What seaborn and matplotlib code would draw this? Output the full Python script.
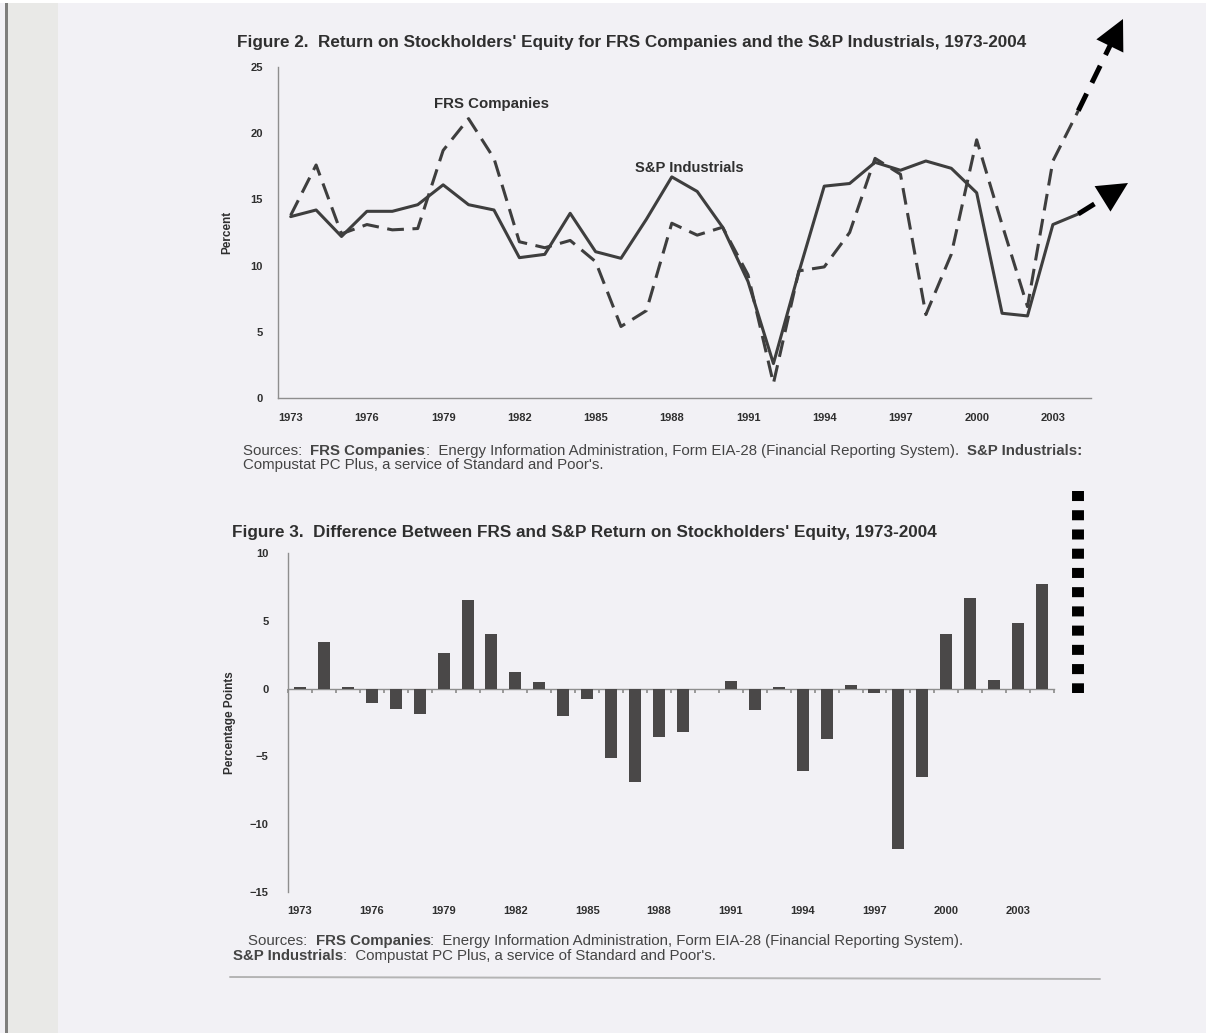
import matplotlib
matplotlib.use("Agg")
import matplotlib.pyplot as plt
import numpy as np
import seaborn as sns
from matplotlib.lines import Line2D
from matplotlib.patches import Rectangle, FancyArrowPatch
from matplotlib.offsetbox import TextArea, HPacker, AnchoredOffsetbox

# ---- data -------------------------------------------------------------
years = list(range(1973, 2005))

# Return on stockholders' equity, percent
frs_roe = [13.8, 17.6, 12.4, 13.1, 12.7, 12.8, 18.7, 21.1, 18.1, 11.8, 11.35,
           11.9, 10.3, 5.4, 6.6, 13.2, 12.3, 12.9, 9.3, 1.1, 9.6, 9.9, 12.5,
           18.1, 16.9, 6.3, 10.85, 19.5, 13.1, 6.9, 17.9, 21.7]
sp_roe = [13.7, 14.2, 12.2, 14.1, 14.1, 14.6, 16.1, 14.6, 14.2, 10.6, 10.85,
          13.95, 11.05, 10.55, 13.5, 16.7, 15.6, 12.9, 8.8, 2.6, 9.5, 16.0,
          16.2, 17.8, 17.2, 17.9, 17.35, 15.5, 6.4, 6.2, 13.1, 13.9]

# FRS minus S&P, percentage points
roe_gap = [0.1, 3.4, 0.15, -1.05, -1.5, -1.85, 2.6, 6.5, 4.0, 1.2, 0.5, -2.0,
           -0.75, -5.1, -6.9, -3.6, -3.2, 0.0, 0.55, -1.55, 0.1, -6.1, -3.7,
           0.3, -0.35, -11.8, -6.5, 4.05, 6.7, 0.65, 4.85, 7.75]

year_ticks = list(range(1973, 2004, 3))
roe_ticks = [0, 5, 10, 15, 20, 25]
gap_ticks = [-15, -10, -5, 0, 5, 10]

# ---- styling ------------------------------------------------------------
W, H, DPI = 1206, 1033, 100
PAPER = "#f2f1f5"
INK = "#2f2f2f"
NOTE = "#444444"
LINE = "#3e3e3e"
BAR = "#4a4848"
AXIS = "#8e8e8e"

sns.set_theme(style="white")
plt.rcParams["font.family"] = ["Liberation Sans", "DejaVu Sans"]


def fx(px):
    return px / W


def fy(py):
    return 1 - py / H


fig = plt.figure(figsize=(W / DPI, H / DPI), dpi=DPI, facecolor=PAPER)

# scanned page edge on the left
fig.add_artist(Rectangle((fx(7), 0), fx(51), fy(3), transform=fig.transFigure,
                         color="#e9e9e7", lw=0, zorder=0))
fig.add_artist(Rectangle((fx(5), 0), fx(2.5), fy(3), transform=fig.transFigure,
                         color="#7e7e7c", lw=0, zorder=0))
fig.add_artist(Rectangle((0, fy(3)), 1, fy(0) - fy(3), transform=fig.transFigure,
                         color="white", lw=0, zorder=0))


def style_axes(ax):
    ax.set_facecolor("none")
    for side in ("top", "right"):
        ax.spines[side].set_visible(False)
    for side in ("left", "bottom"):
        ax.spines[side].set_color(AXIS)
        ax.spines[side].set_linewidth(1.0)
    ax.tick_params(axis="both", which="both", colors=AXIS, labelcolor=INK,
                   labelsize=8, width=0.8)
    for lab in ax.get_xticklabels() + ax.get_yticklabels():
        lab.set_fontweight("bold")


def source_line(x_px, y_px, parts, size=10.8):
    areas = [TextArea(t, textprops=dict(fontsize=size, color=NOTE,
                                        fontweight="bold" if b else "normal"))
             for t, b in parts]
    box = HPacker(children=areas, align="baseline", pad=0, sep=0)
    anchored = AnchoredOffsetbox(loc="center left", child=box, pad=0,
                                 borderpad=0, frameon=False,
                                 bbox_to_anchor=(fx(x_px), fy(y_px)),
                                 bbox_transform=fig.transFigure)
    fig.add_artist(anchored)


def trend_arrow(ax, start, tip_px, head=30):
    """Thick dashed arrow from a data point out to a point on the page."""
    sx, sy = ax.transData.transform(start)
    tx, ty = tip_px[0], H - tip_px[1]
    dist = np.hypot(tx - sx, ty - sy)
    ux, uy = (tx - sx) / dist, (ty - sy) / dist
    bx, by = tx - ux * head * 0.7, ty - uy * head * 0.7
    fig.add_artist(Line2D([sx / W, bx / W], [sy / H, by / H],
                          transform=fig.transFigure, color="black", lw=3.6,
                          linestyle=(0, (3.8, 2.4)), dash_capstyle="butt",
                          zorder=5))
    hx, hy = tx - ux * head, ty - uy * head
    fig.add_artist(FancyArrowPatch(
        (hx / W, hy / H), (tx / W, ty / H), transform=fig.transFigure,
        arrowstyle="-|>,head_length=1.0,head_width=0.5",
        mutation_scale=head * 0.72, color="black", lw=0,
        shrinkA=0, shrinkB=0, zorder=6))


# ---- Figure 2: line chart ------------------------------------------------
ax1 = fig.add_axes([fx(278), fy(398), fx(1091) - fx(278), fy(67) - fy(398)])
sns.lineplot(x=years, y=sp_roe, ax=ax1, color=LINE, lw=2.2)
sns.lineplot(x=years, y=frs_roe, ax=ax1, color=LINE, lw=2.2,
             linestyle=(0, (5.5, 2.8)))
ax1.set_xlim(1972.5, 2004.5)
ax1.set_ylim(0, 25)
ax1.set_yticks(roe_ticks)
ax1.set_xticks(year_ticks)
ax1.set_xticks(years, minor=True)
ax1.set_xticklabels([str(y) for y in year_ticks])
ax1.tick_params(axis="x", which="both", direction="inout", length=4, pad=9)
ax1.tick_params(axis="y", direction="out", length=3, pad=8)
ax1.set_ylabel("Percent", fontsize=8.5, fontweight="bold", color=INK,
               labelpad=12)
style_axes(ax1)

ax1.text(1980.9, 22.2, "FRS Companies", ha="center", va="center",
         fontsize=10.8, fontweight="bold", color=INK)
ax1.text(1988.7, 17.4, "S&P Industrials", ha="center", va="center",
         fontsize=10.6, fontweight="bold", color=INK)

# trend arrows carried past the last year
trend_arrow(ax1, (2004, frs_roe[-1]), (1123, 19))
trend_arrow(ax1, (2004, sp_roe[-1]), (1128, 183))

fig.text(fx(237), fy(42),
         "Figure 2.  Return on Stockholders' Equity for FRS Companies and the "
         "S&P Industrials, 1973-2004",
         ha="left", va="center", fontsize=12.3, fontweight="bold", color=INK)

source_line(243, 451, [("Sources:  ", False), ("FRS Companies", True),
                       (":  Energy Information Administration, Form EIA-28 "
                        "(Financial Reporting System).  ", False),
                       ("S&P Industrials:", True)])
source_line(243, 465, [("Compustat PC Plus, a service of Standard and Poor's.",
                        False)])

# ---- Figure 3: bar chart -------------------------------------------------
ax2 = fig.add_axes([fx(288), fy(892), fx(1054) - fx(288), fy(553) - fy(892)])
sns.barplot(x=years, y=roe_gap, ax=ax2, color=BAR, width=0.5, saturation=1,
            edgecolor=BAR, linewidth=0)
ax2.set_xlim(-0.5, len(years) - 0.5)
ax2.set_ylim(-15, 10)
ax2.set_yticks(gap_ticks)
ax2.set_xticks([years.index(y) for y in year_ticks])
ax2.set_xticklabels([str(y) for y in year_ticks])
ax2.set_xlabel("")
ax2.set_ylabel("Percentage Points", fontsize=8.5, fontweight="bold", color=INK,
               labelpad=10)
style_axes(ax2)
ax2.spines["bottom"].set_visible(False)
ax2.tick_params(axis="x", length=0, pad=10)
ax2.tick_params(axis="y", direction="out", length=3, pad=11)

# category axis drawn through zero
zero_frac = (0 - (-15)) / 25
zero_axis = ax2.secondary_xaxis(zero_frac)
zero_axis.set_xticks(np.arange(-0.5, len(years), 1.0))
zero_axis.tick_params(axis="x", direction="in", length=3, labeltop=False,
                      labelbottom=False, colors=AXIS)
for sp in zero_axis.spines.values():
    sp.set_color(AXIS)
    sp.set_linewidth(1.0)

fig.text(fx(232), fy(532),
         "Figure 3.  Difference Between FRS and S&P Return on Stockholders' "
         "Equity, 1973-2004",
         ha="left", va="center", fontsize=12.3, fontweight="bold", color=INK)

source_line(248, 941, [("Sources:  ", False), ("FRS Companies", True),
                       (":  Energy Information Administration, Form EIA-28 "
                        "(Financial Reporting System).", False)])
source_line(233, 956, [("S&P Industrials", True),
                       (":  Compustat PC Plus, a service of Standard and "
                        "Poor's.", False)])

# page rule under the sources
fig.add_artist(Line2D([fx(230), fx(1100)], [fy(977), fy(979)],
                      transform=fig.transFigure, color="#b4b4b4", lw=1.4))

# dotted marker beside the bar chart
fig.add_artist(Line2D([fx(1078), fx(1078)], [fy(490.7), fy(692.7)],
                      transform=fig.transFigure, color="black", lw=8.6,
                      linestyle=(0, (0.84, 0.77)), dash_capstyle="butt"))

fig.savefig("out.png", dpi=DPI, facecolor=PAPER)
